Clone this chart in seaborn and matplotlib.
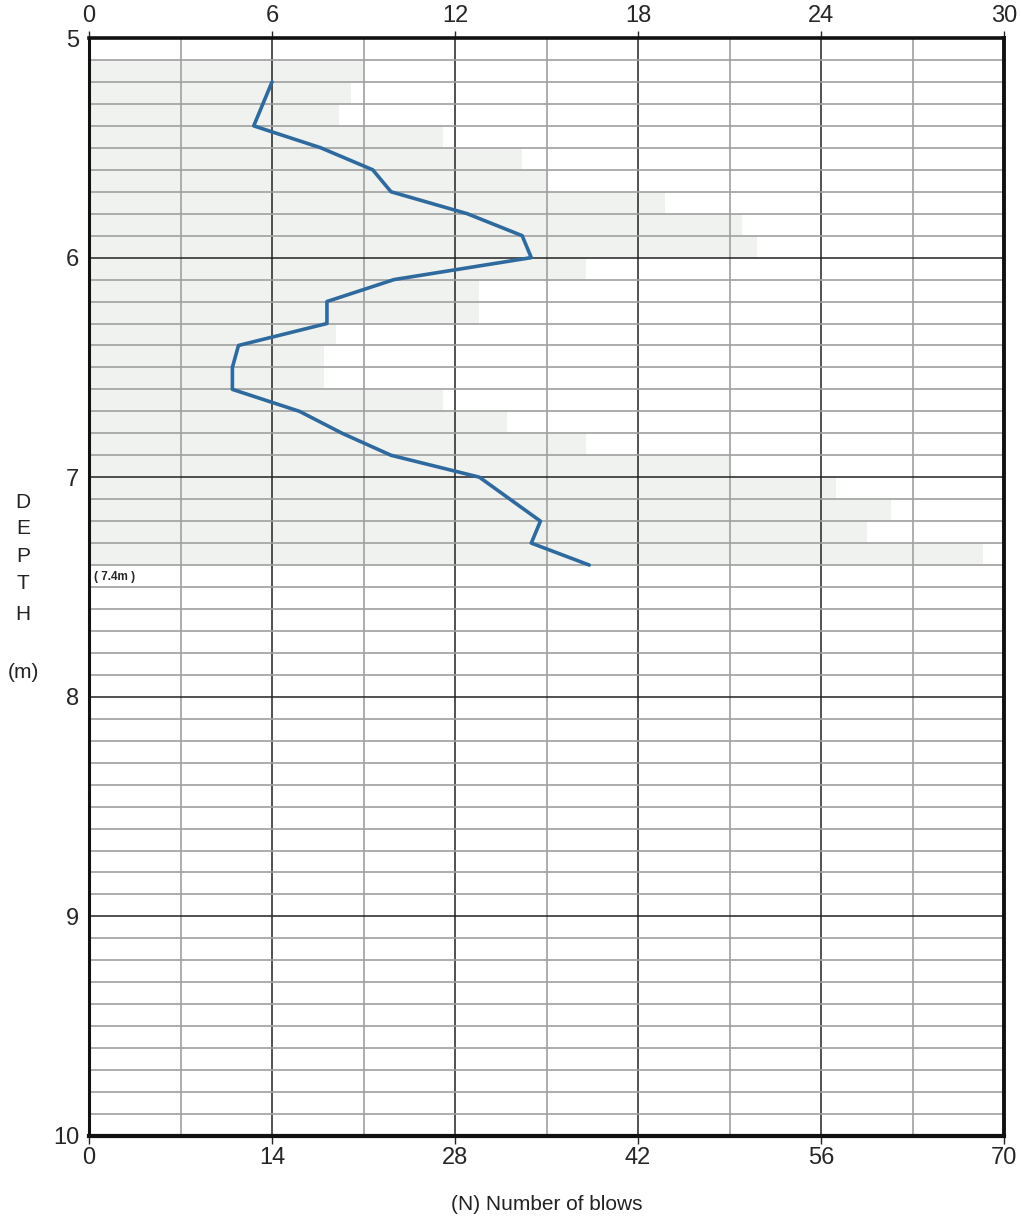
import numpy as np
import matplotlib
matplotlib.use("Agg")
import matplotlib.pyplot as plt
import seaborn as sns

# SPT log: blow count (N) against depth
depth = [5.2, 5.4, 5.5, 5.6, 5.7, 5.8, 5.9, 6.0, 6.1, 6.2, 6.3, 6.4, 6.5, 6.6,
         6.7, 6.8, 6.9, 7.0, 7.2, 7.3, 7.4]
blows = [6.0, 5.4, 7.6, 9.3, 9.9, 12.4, 14.2, 14.5, 10.0, 7.8, 7.8, 4.9, 4.7, 4.7,
         6.9, 8.3, 9.9, 12.8, 14.8, 14.5, 16.4]

# faint shaded bands behind the curve (one per 0.1 m interval)
band_mid = [5.15, 5.25, 5.35, 5.45, 5.55, 5.65, 5.75, 5.85, 5.95,
            6.05, 6.15, 6.25, 6.35, 6.45, 6.55, 6.65, 6.75, 6.85, 6.95,
            7.05, 7.15, 7.25, 7.35]
band_len = [9.0, 8.6, 8.2, 11.6, 14.2, 15.0, 18.9, 21.4, 21.9,
            16.3, 12.8, 12.8, 8.1, 7.7, 7.7, 11.6, 13.7, 16.3, 21.0,
            24.5, 26.3, 25.5, 29.3]

top_ticks = [0, 6, 12, 18, 24, 30]
bottom_ticks = [0, 14, 28, 42, 56, 70]
depth_ticks = [5, 6, 7, 8, 9, 10]

sns.set_style("white")
plt.rcParams['font.family'] = ['Liberation Sans Narrow', 'Liberation Sans', 'DejaVu Sans']

fig = plt.figure(figsize=(10.21, 12.19), dpi=100)
ax = fig.add_axes([0.0872, 0.0681, 0.8962, 0.9007])

ax.barh(band_mid, band_len, height=0.1, left=0, color='#f0f2f0', edgecolor='none', zorder=1)
sns.lineplot(x=blows, y=depth, sort=False, orient='y', color='#2f6a9e', lw=2.6, ax=ax, zorder=3)

ax.set_xlim(0, 30)
ax.set_ylim(10, 5)

# top axis (0-30)
ax.xaxis.tick_top()
ax.set_xticks(top_ticks)
ax.set_xticks(np.arange(3, 30, 6), minor=True)
ax.set_yticks(depth_ticks)
ax.set_yticks(np.arange(5.1, 10, 0.1), minor=True)
ax.tick_params(axis='x', which='major', labelsize=17, length=5, width=1, pad=3)
ax.tick_params(axis='y', which='major', labelsize=17, length=6, width=1, pad=1)
ax.tick_params(which='minor', length=0)

ax.grid(which='major', color='#222222', lw=1.1)
ax.grid(which='minor', color='#a0a0a0', lw=1.2)
ax.set_axisbelow('line')

for side, w in {'top': 2.6, 'bottom': 3.0, 'right': 2.8, 'left': 2.2}.items():
    ax.spines[side].set_visible(True)
    ax.spines[side].set_linewidth(w)
    ax.spines[side].set_color('#111111')

# bottom axis (0-70), same span
sec = ax.secondary_xaxis('bottom', functions=(lambda x: x * 70 / 30, lambda x: x * 30 / 70))
sec.set_xticks(bottom_ticks)
sec.tick_params(labelsize=17, length=6, width=1, pad=2)
sec.spines['bottom'].set_visible(False)

ax.text(0.15, 7.455, '( 7.4m )', fontsize=8.5, fontweight='bold', va='center', ha='left',
        family=['Liberation Sans', 'DejaVu Sans'])

for letter, yp in zip('DEPTH', [502, 529, 556, 584, 614]):
    fig.text(23 / 1021, 1 - yp / 1219, letter, fontsize=15, ha='center', va='center',
             family=['Liberation Sans', 'DejaVu Sans'], color='#222222')
fig.text(23 / 1021, 1 - 672 / 1219, '(m)', fontsize=15, ha='center', va='center',
         family=['Liberation Sans', 'DejaVu Sans'], color='#222222')
fig.text(547 / 1021, 1 - 1205 / 1219, '(N) Number of blows', fontsize=15, ha='center',
         va='center', family=['Liberation Sans', 'DejaVu Sans'], color='#222222')

fig.savefig('out.png', dpi=100)
